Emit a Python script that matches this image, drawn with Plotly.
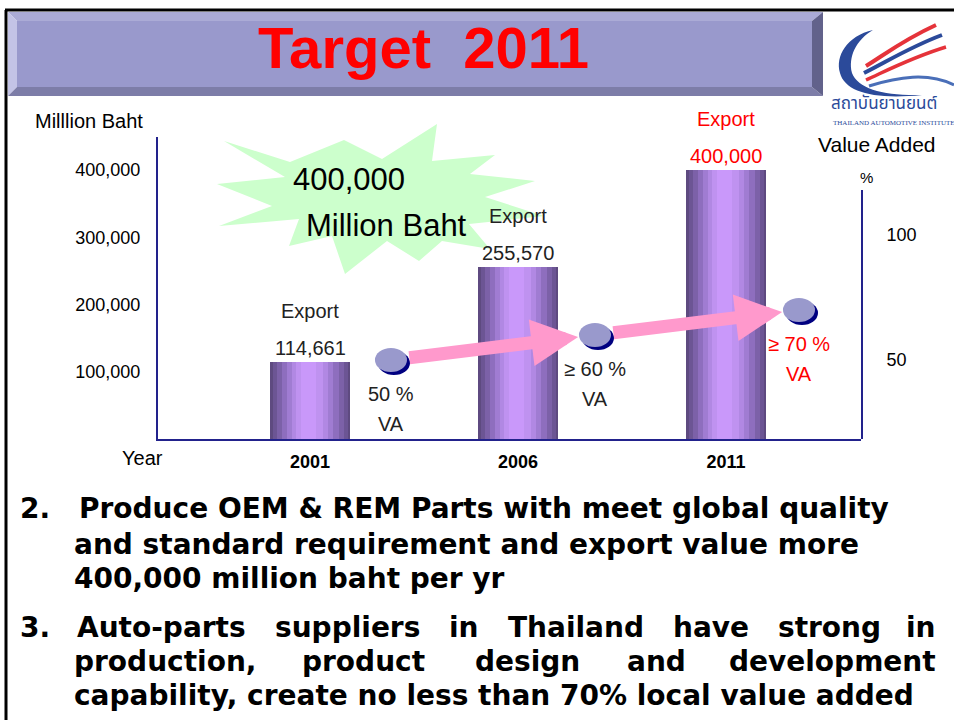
import plotly.graph_objects as go

# ---------------- data ----------------
years = ["2001", "2006", "2011"]
export_value = [114661, 255570, 400000]
value_added = [50, 60, 70]
va_text = ["50 %", "\u2265 60 %", "\u2265 70 %"]
export_ticks = [100000, 200000, 300000, 400000]
va_ticks = [50, 100]
is_target = [False, False, True]

W, H = 954, 720


def fx(x):
    return x / W


def fy(y):
    return 1 - y / H


def poly_path(pts):
    return "M " + " L ".join(f"{fx(x):.5f},{fy(y):.5f}" for x, y in pts) + " Z"


def curve_path(start, curves, close=False):
    s = f"M {fx(start[0]):.5f},{fy(start[1]):.5f}"
    for c in curves:
        s += " C " + " ".join(f"{fx(x):.5f},{fy(y):.5f}" for x, y in c)
    if close:
        s += " Z"
    return s


NAVY = "#22228C"
RED = "#FF0000"
SANS = "Liberation Sans, Arial, sans-serif"
BOLDTXT = "DejaVu Sans, Verdana, sans-serif"

fig = go.Figure()

# gradient bars built as overlaid strips of the same data
bar_w = 80 / 208
layers = [
    (0.00, 1.00, "#5E4A80"),
    (0.04, 0.97, "#6C5594"),
    (0.09, 0.92, "#7C61A8"),
    (0.15, 0.86, "#8E6EBE"),
    (0.21, 0.79, "#A07CD2"),
    (0.27, 0.72, "#B188E3"),
    (0.33, 0.66, "#BF92F0"),
    (0.39, 0.58, "#C998FA"),
]
for l, r, c in layers:
    fig.add_trace(go.Bar(
        x=years, y=export_value, width=(r - l) * bar_w,
        offset=-bar_w / 2 + l * bar_w,
        marker=dict(color=c, line=dict(width=0)),
        hoverinfo="skip", xaxis="x", yaxis="y", showlegend=False))

fig.add_trace(go.Scatter(
    x=years, y=value_added, xaxis="x2", yaxis="y2", mode="markers",
    marker=dict(size=2, opacity=0), hoverinfo="skip", showlegend=False))

shapes = []
annotations = []


def ptext(txt, x, y, font, xanchor="center", yanchor="middle"):
    annotations.append(dict(xref="paper", yref="paper", x=fx(x), y=fy(y), text=txt, showarrow=False,
                            xanchor=xanchor, yanchor=yanchor, font=font))


# ---- slide frame ----
shapes.append(dict(type="line", xref="paper", yref="paper", x0=fx(5), x1=fx(954), y0=fy(10), y1=fy(10),
                   line=dict(color="black", width=3)))
shapes.append(dict(type="line", xref="paper", yref="paper", x0=fx(6), x1=fx(6), y0=fy(10), y1=fy(720),
                   line=dict(color="black", width=3)))

# ---- title bevel box ----
L, R, T, B, bv = 8, 823, 12, 96, 9
shapes += [
    dict(type="path", xref="paper", yref="paper", path=poly_path([(L, T), (R, T), (R - 11, T + bv), (L + bv, T + bv)]),
         fillcolor="#ABABD6", line=dict(width=0)),
    dict(type="path", xref="paper", yref="paper", path=poly_path([(L, T), (L + bv, T + bv), (L + bv, B - bv), (L, B)]),
         fillcolor="#C3C3E6", line=dict(width=0)),
    dict(type="path", xref="paper", yref="paper", path=poly_path([(L, B), (L + bv, B - bv), (R - 11, B - bv), (R, B)]),
         fillcolor="#7D7DA8", line=dict(width=0)),
    dict(type="path", xref="paper", yref="paper", path=poly_path([(R, T), (R - 11, T + bv), (R - 11, B - bv), (R, B)]),
         fillcolor="#62628B", line=dict(width=0)),
    dict(type="rect", xref="paper", yref="paper", x0=fx(L + bv), x1=fx(R - 11), y0=fy(B - bv), y1=fy(T + bv),
         fillcolor="#9999CC", line=dict(width=0)),
]
ptext("Target\u00a0 2011", 423, 48, dict(family=SANS, size=58, color=RED, weight="bold"))

# ---- logo ----
shapes.append(dict(type="path", xref="paper", yref="paper",
                   path=curve_path((873, 30), [[(847, 36), (835, 56), (840, 73)],
                                               [(845, 92), (874, 100), (922, 95)],
                                               [(884, 96), (858, 89), (852, 73)],
                                               [(848, 57), (856, 40), (873, 30)]], close=True),
                   fillcolor="#2B4A9A", line=dict(width=0)))
for start, c, col, w in [
    ((866, 66), [(884, 55), (903, 40), (936, 25)], "#E5333A", 4),
    ((864, 73), [(888, 61), (910, 47), (942, 35)], "#2B4A9A", 4),
    ((866, 80), [(890, 69), (913, 57), (946, 47)], "#E5333A", 3.5),
    ((869, 86), [(898, 77), (928, 72), (954, 85)], "#4A6FB8", 3),
]:
    shapes.append(dict(type="path", xref="paper", yref="paper", path=curve_path(start, [c]),
                       line=dict(color=col, width=w)))
ptext("สถาบันยานยนต์", 829, 104, dict(family="Noto Sans Thai, Tahoma, sans-serif", size=17, color="#2B4A9A"),
      xanchor="left")
ptext("THAILAND AUTOMOTIVE INSTITUTE", 831, 123, dict(family="Liberation Serif, serif", size=7, color="#2B4A9A"),
      xanchor="left")

# ---- starburst ----
sdx, sdy = -38, -6
star = [(262, 147), (328, 168), (382, 146), (420, 165), (475, 130), (470, 167), (533, 161), (508, 180),
        (573, 187), (523, 203), (582, 222), (507, 230), (528, 255), (480, 247), (457, 267), (425, 247),
        (383, 280), (370, 242), (327, 252), (337, 225), (257, 232), (310, 212), (255, 190), (323, 183)]
shapes.append(dict(type="path", xref="paper", yref="paper", layer="below",
                   path=poly_path([(x + sdx, y + sdy) for x, y in star]),
                   fillcolor="#CCFFCC", line=dict(width=0)))
ptext("400,000", 387 + sdx, 185 + sdy, dict(family=SANS, size=31, color="black"))
ptext("Million Baht", 424 + sdx, 231 + sdy, dict(family=SANS, size=31, color="black"))

# ---- axis captions ----
for txt, x, y, size in [("Milllion Baht", 89, 121, 20), ("Year", 142, 458, 20),
                        ("Value Added", 877, 145, 21), ("%", 866, 177, 15)]:
    ptext(txt, x, y, dict(family=SANS, size=size, color="black"))

# ---- bar labels ----
for i, (v, tg) in enumerate(zip(export_value, is_target)):
    col = RED if tg else "#222222"
    annotations.append(dict(xref="x", yref="y", x=i, y=v, xanchor="center", yanchor="bottom", yshift=1,
                            text=f"{v:,}", showarrow=False, font=dict(family=SANS, size=20, color=col)))
    annotations.append(dict(xref="x", yref="y", x=i, y=v, xanchor="center", yanchor="bottom", yshift=38,
                            text="Export", showarrow=False, font=dict(family=SANS, size=20, color=col)))

# ---- value-added ellipses, arrows, labels ----
for i, (v, tg, lab) in enumerate(zip(value_added, is_target, va_text)):
    shapes.append(dict(type="circle", xref="x2", yref="y2", xsizemode="pixel", ysizemode="pixel",
                       xanchor=i, yanchor=v, x0=-13, x1=19, y0=-15, y1=9,
                       fillcolor="#000080", line=dict(width=0)))
    shapes.append(dict(type="circle", xref="x2", yref="y2", xsizemode="pixel", ysizemode="pixel",
                       xanchor=i, yanchor=v, x0=-16, x1=16, y0=-12, y1=12,
                       fillcolor="#9999CC", line=dict(width=0)))
    col = RED if tg else "#222222"
    annotations.append(dict(xref="x2", yref="y2", x=i, y=v, yshift=-34, text=lab, showarrow=False,
                            xanchor="center", yanchor="middle", font=dict(family=SANS, size=20, color=col)))
    annotations.append(dict(xref="x2", yref="y2", x=i, y=v, yshift=-64, text="VA", showarrow=False,
                            xanchor="center", yanchor="middle", font=dict(family=SANS, size=20, color=col)))
for i in range(len(value_added) - 1):
    annotations.append(dict(xref="x2", yref="y2", axref="x2", ayref="y2",
                            x=i + 1, y=value_added[i + 1], ax=i, ay=value_added[i],
                            text="", showarrow=True, arrowhead=2, arrowwidth=13, arrowsize=0.72,
                            arrowcolor="#FF99CC", standoff=17, startstandoff=17))

# ---- bottom text ----
bfont = dict(family=BOLDTXT, size=28, color="black", weight="bold")
bottom = [
    ("2.", 18, 508, "left"), ("Produce OEM & REM Parts with meet global quality", 77, 508, "left"),
    ("and standard requirement and export value more", 72, 544, "left"),
    ("400,000 million baht per yr", 72, 578, "left"),
    ("3.", 18, 627, "left"), ("Auto-parts", 75, 627, "left"), ("suppliers", 273, 627, "left"),
    ("in", 447, 627, "left"), ("Thailand", 506, 627, "left"), ("have", 671, 627, "left"),
    ("strong", 776, 627, "left"), ("in", 938, 627, "right"),
    ("production,", 72, 661, "left"), ("product", 300, 661, "left"), ("design", 473, 661, "left"),
    ("and", 625, 661, "left"), ("development", 938, 661, "right"),
    ("capability, create no less than 70% local value added", 72, 695, "left"),
]
for txt, x, y, anc in bottom:
    ptext(txt, x, y, bfont, xanchor=anc)

fig.update_layout(
    width=W, height=H, margin=dict(l=0, r=0, t=0, b=0),
    paper_bgcolor="white", plot_bgcolor="rgba(0,0,0,0)",
    barmode="overlay", bargap=0, showlegend=False,
    xaxis=dict(type="category", domain=[fx(158), fx(861)], range=[-0.7308, 2.649], anchor="y",
               showline=True, linecolor=NAVY, linewidth=2, showgrid=False, zeroline=False, ticks="",
               ticklabelstandoff=5,
               tickfont=dict(family=SANS, size=18, color="black", weight="bold")),
    yaxis=dict(domain=[fy(439), fy(137)], range=[0, 449070], anchor="x",
               showline=True, linecolor=NAVY, linewidth=2, showgrid=False, zeroline=False, ticks="",
               tickvals=export_ticks, tickformat=",", ticklabelstandoff=12,
               tickfont=dict(family=SANS, size=18, color="black")),
    xaxis2=dict(type="category", domain=[fx(158), fx(861)], range=[-1.142, 2.304], anchor="y2",
                visible=False),
    yaxis2=dict(domain=[fy(439), fy(190)], range=[18.4, 118], anchor="x2", side="right",
                showline=True, linecolor=NAVY, linewidth=2, showgrid=False, zeroline=False, ticks="",
                tickvals=va_ticks, ticklabelstandoff=20,
                tickfont=dict(family=SANS, size=18, color="black")),
    shapes=shapes, annotations=annotations,
)

fig.write_html("out.html", config={"displayModeBar": False},
               post_script="document.body.style.margin='0px';")
